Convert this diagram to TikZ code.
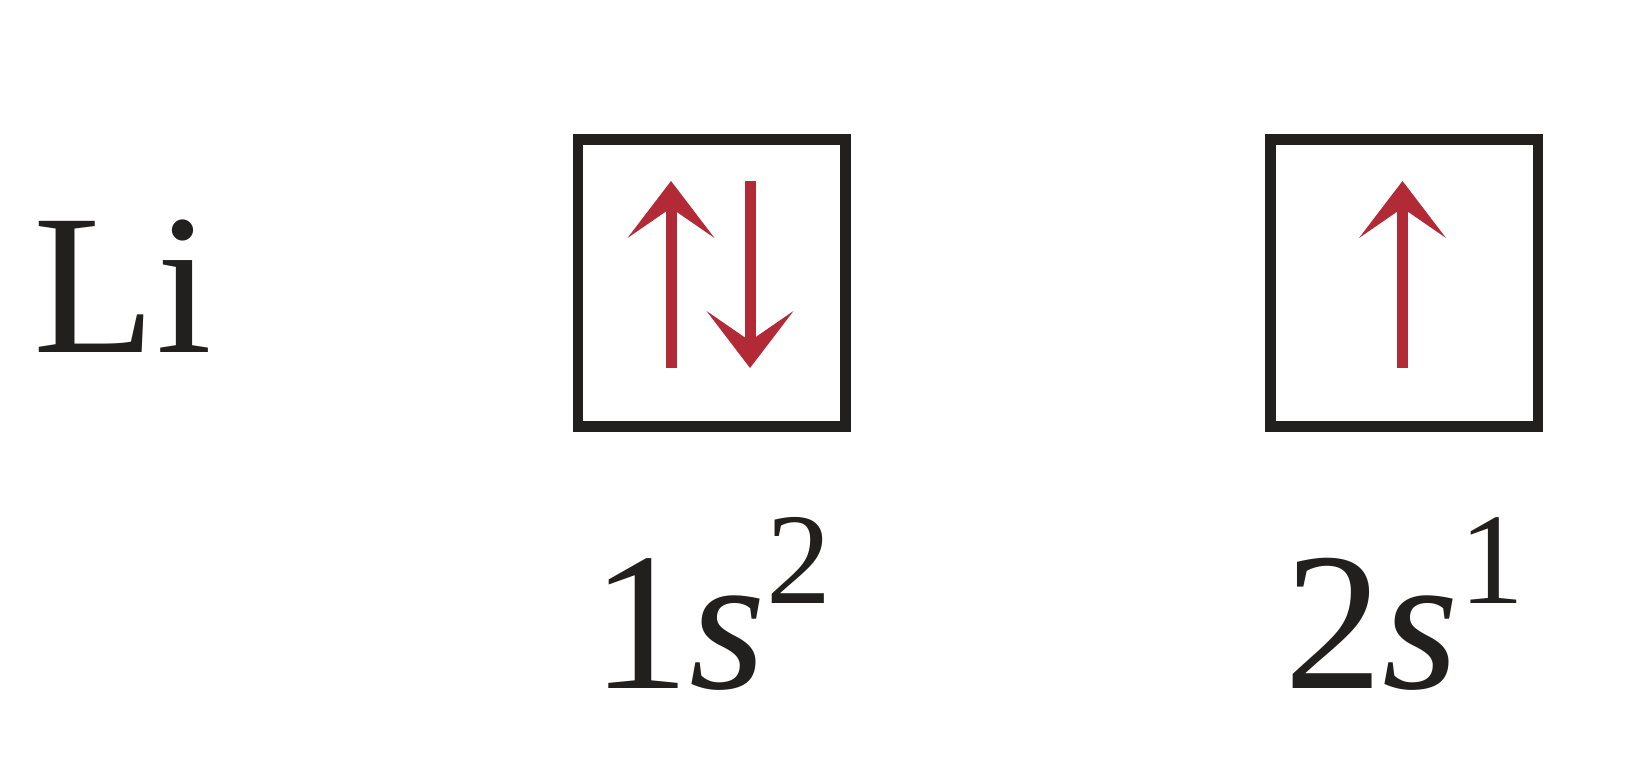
\documentclass[tikz,border=0pt]{standalone}
\usepackage{fontspec}
\setmainfont{Liberation Serif}
\usepackage{xcolor}
\usepackage{tikz}
\usetikzlibrary{arrows.meta, positioning}

\definecolor{spinred}{RGB}{178,42,54}
\definecolor{boxgray}{RGB}{34,32,30}
\newcommand{\sups}[1]{\raisebox{0.85cm}{\fontsize{37}{40}\selectfont #1}}

\begin{document}
\begin{tikzpicture}[
  orbital/.style={draw=boxgray, line width=0.105cm, minimum width=2.675cm, minimum height=2.87cm, inner sep=0pt},
  spin/.style={draw=spinred, line width=0.11cm, -{Stealth[length=0.57cm, width=0.87cm, inset=0.30cm, line width=0pt]}},
  conf/.style={anchor=base, inner sep=0pt, text=boxgray, font=\fontsize{56}{60}\selectfont}
]
\useasboundingbox (0,0) rectangle (16.46,7.82);
\def\h{0.85}
% element symbol
\node[anchor=base west, inner sep=0pt, text=boxgray, font=\fontsize{57}{60}\selectfont] (elem) at (0.33,4.30) {Li};
% orbital boxes
\node[orbital] (s1) at (7.115,4.99) {};
\node[orbital] (s2) at (14.04,4.99) {};
% electrons
\draw[spin] ([xshift=-0.405cm, yshift=-\h cm]s1.center) -- ++(0,1.87);
\draw[spin] ([xshift=0.385cm, yshift=1.02cm]s1.center) -- ++(0,-1.87);
\draw[spin] ([xshift=-0.015cm, yshift=-\h cm]s2.center) -- ++(0,1.87);
% configurations
\node[conf] (c1) at (s1.center |- 0,0.94) {1\textit{s}\sups{2}};
\node[conf] (c2) at (s2.center |- 0,0.94) {2\textit{s}\sups{1}};
\end{tikzpicture}
\end{document}
